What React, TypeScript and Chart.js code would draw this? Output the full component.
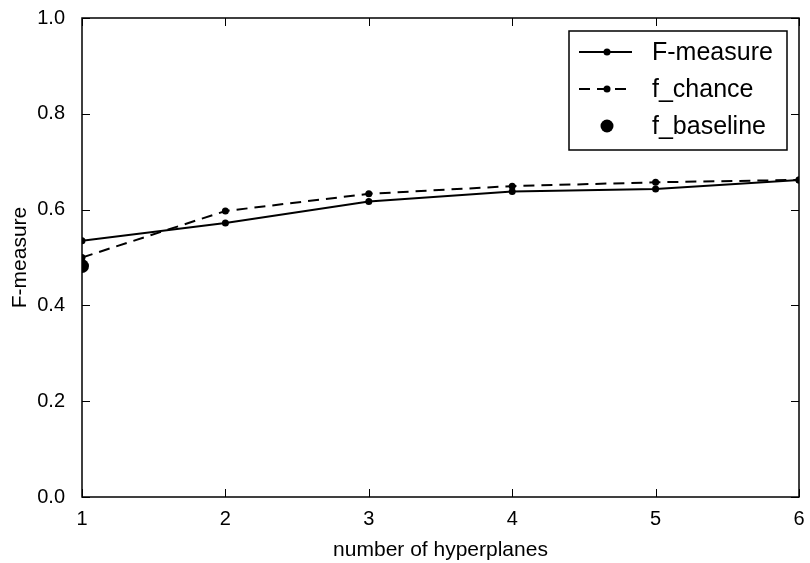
import React, { useEffect, useRef } from "react";
import { Chart, registerables } from "chart.js";

Chart.register(...registerables);

const categories = [1, 2, 3, 4, 5, 6];
const fMeasure = [0.535, 0.572, 0.617, 0.638, 0.643, 0.662];
const fChance = [0.5, 0.597, 0.633, 0.649, 0.657, 0.662];
const fBaseline = [0.482];
const yTicks = [0, 0.2, 0.4, 0.6, 0.8, 1.0];
const legendLabels = ["F-measure", "f_chance", "f_baseline"];

const FONT = "'Liberation Sans', Arial, sans-serif";

const framePlugin = {
  id: "frameAndTicks",
  afterDatasetsDraw(chart: any) {
    const { ctx, chartArea: a, scales } = chart;
    ctx.save();
    ctx.strokeStyle = "#000";
    ctx.lineWidth = 1;
    const tl = 8;
    ctx.beginPath();
    categories.forEach((c) => {
      const x = Math.round(scales.x.getPixelForValue(c)) + 0.5;
      ctx.moveTo(x, a.bottom);
      ctx.lineTo(x, a.bottom - tl);
      ctx.moveTo(x, a.top);
      ctx.lineTo(x, a.top + tl);
    });
    yTicks.forEach((v) => {
      const y = Math.round(scales.y.getPixelForValue(v)) + 0.5;
      ctx.moveTo(a.left, y);
      ctx.lineTo(a.left + tl, y);
      ctx.moveTo(a.right, y);
      ctx.lineTo(a.right - tl, y);
    });
    ctx.stroke();
    ctx.lineWidth = 1.5;
    ctx.strokeRect(a.left, a.top, a.right - a.left, a.bottom - a.top);

    // legend
    const bx = a.right - 230, by = a.top + 13, bw = 218, bh = 119;
    ctx.fillStyle = "#fff";
    ctx.fillRect(bx, by, bw, bh);
    ctx.lineWidth = 1.5;
    ctx.strokeRect(bx, by, bw, bh);
    const lx0 = bx + 10, lx1 = bx + 63, mx = bx + 38;
    const rows = [by + 21, by + 58, by + 95];
    ctx.fillStyle = "#000";
    ctx.lineWidth = 2;
    // F-measure
    ctx.setLineDash([]);
    ctx.beginPath();
    ctx.moveTo(lx0, rows[0]);
    ctx.lineTo(lx1, rows[0]);
    ctx.stroke();
    ctx.beginPath();
    ctx.arc(mx, rows[0], 3.5, 0, Math.PI * 2);
    ctx.fill();
    // f_chance
    ctx.setLineDash([11, 7]);
    ctx.beginPath();
    ctx.moveTo(lx0, rows[1]);
    ctx.lineTo(lx1, rows[1]);
    ctx.stroke();
    ctx.setLineDash([]);
    ctx.beginPath();
    ctx.arc(mx, rows[1], 3.5, 0, Math.PI * 2);
    ctx.fill();
    // baseline
    ctx.beginPath();
    ctx.arc(mx, rows[2], 6.5, 0, Math.PI * 2);
    ctx.fill();
    ctx.font = `25px ${FONT}`;
    ctx.textBaseline = "middle";
    ctx.textAlign = "left";
    legendLabels.forEach((t, i) => ctx.fillText(t, bx + 83, rows[i] + 1));
    ctx.restore();
  },
};

export default function App() {
  const ref = useRef<HTMLCanvasElement>(null);
  useEffect(() => {
    document.body.style.margin = "0";
    const chart = new Chart(ref.current!, {
      type: "line",
      data: {
        datasets: [
          {
            label: legendLabels[0],
            data: categories.map((c, i) => ({ x: c, y: fMeasure[i] })),
            borderColor: "#000",
            backgroundColor: "#000",
            borderWidth: 2,
            pointRadius: 3.5,
            pointBorderWidth: 0,
            clip: 0 as any,
          },
          {
            label: legendLabels[1],
            data: categories.map((c, i) => ({ x: c, y: fChance[i] })),
            borderColor: "#000",
            backgroundColor: "#000",
            borderWidth: 2,
            borderDash: [11, 7],
            pointRadius: 3.5,
            pointBorderWidth: 0,
            clip: 0 as any,
          },
          {
            label: legendLabels[2],
            data: fBaseline.map((v, i) => ({ x: categories[i], y: v })),
            borderColor: "#000",
            backgroundColor: "#000",
            showLine: false,
            pointRadius: 7,
            pointBorderWidth: 0,
            clip: 0 as any,
          },
        ],
      },
      options: {
        animation: false,
        responsive: false,
        layout: { padding: { left: 0, right: 11, top: 18, bottom: 0 } },
        plugins: { legend: { display: false }, tooltip: { enabled: false } },
        scales: {
          x: {
            type: "linear",
            min: 1,
            max: 6,
            afterFit: (s: any) => { s.height = 66; s.paddingLeft = 0; s.paddingRight = 0; },
            afterBuildTicks: (s: any) => { s.ticks = categories.map((v) => ({ value: v })); },
            grid: { display: false },
            border: { display: false },
            ticks: { color: "#000", font: { family: FONT, size: 20 }, padding: 2, callback: (v: any) => String(v) },
            title: { display: true, text: "number of hyperplanes", color: "#000", font: { family: FONT, size: 21 }, padding: { top: 4, bottom: 0 } },
          },
          y: {
            min: 0,
            max: 1,
            afterFit: (s: any) => { s.width = 82; s.paddingTop = 0; s.paddingBottom = 0; },
            afterBuildTicks: (s: any) => { s.ticks = yTicks.map((v) => ({ value: v })); },
            grid: { display: false },
            border: { display: false },
            ticks: { color: "#000", font: { family: FONT, size: 20 }, padding: 9, callback: (v: any) => Number(v).toFixed(1) },
            title: { display: true, text: "F-measure", color: "#000", font: { family: FONT, size: 21 }, padding: { top: 8, bottom: 0 } },
          },
        },
      },
      plugins: [framePlugin],
    });
    return () => chart.destroy();
  }, []);
  return <canvas ref={ref} width={810} height={563} style={{ display: "block" }} />;
}
